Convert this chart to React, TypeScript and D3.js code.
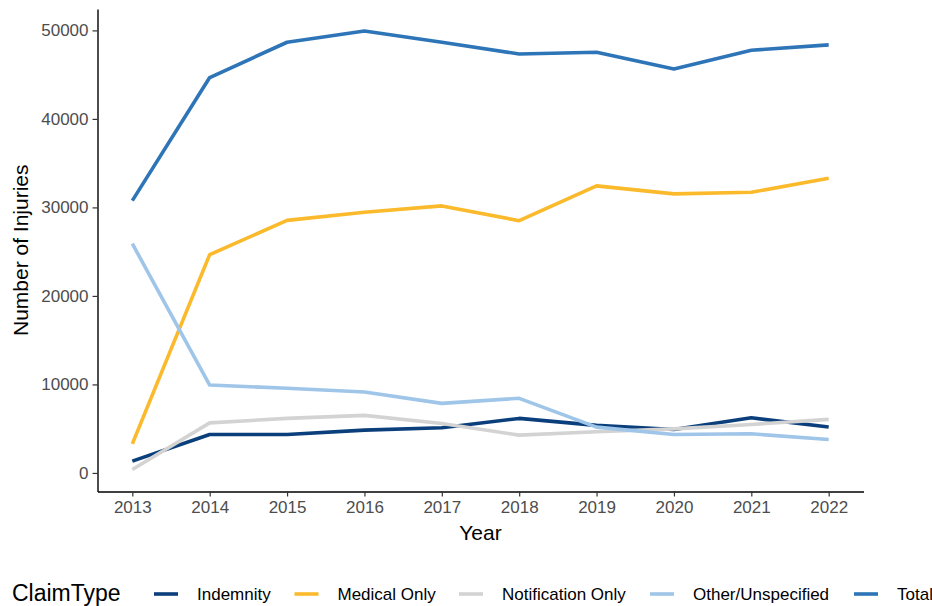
import React, { useRef, useEffect } from 'react';
import * as d3 from 'd3';

const years = [2013, 2014, 2015, 2016, 2017, 2018, 2019, 2020, 2021, 2022];
const claimTypes = ['Indemnity', 'Medical Only', 'Notification Only', 'Other/Unspecified', 'Total'];
const indemnity = [1330, 4350, 4350, 4840, 5100, 6160, 5370, 4910, 6230, 5180];
const medicalOnly = [3290, 24660, 28540, 29450, 30170, 28500, 32430, 31530, 31710, 33300];
const notificationOnly = [380, 5660, 6160, 6500, 5590, 4270, 4650, 4980, 5480, 6050];
const otherUnspecified = [25900, 9930, 9560, 9140, 7860, 8430, 5180, 4350, 4420, 3780];
const total = [30770, 44670, 48660, 49940, 48660, 47340, 47530, 45640, 47760, 48360];
const yTicks = [0, 10000, 20000, 30000, 40000, 50000];
const colors = ['#0B3F7C', '#FBBA2C', '#D3D3D3', '#9FC5E8', '#2E75B8'];

const App = () => {
  const svgRef = useRef(null);

  useEffect(() => {
    const width = 932;
    const height = 606;
    const panel = { left: 97.5, right: 863.5, top: 9, bottom: 491.5 };
    const font = 'Liberation Sans, Arial, sans-serif';

    const svg = d3.select(svgRef.current);
    svg.selectAll('*').remove();
    svg.attr('width', width).attr('height', height);

    const series = [indemnity, medicalOnly, notificationOnly, otherUnspecified, total];

    // ggplot-style 5% expansion
    const xMin = d3.min(years), xMax = d3.max(years);
    const xPad = (xMax - xMin) * 0.05;
    const x = d3.scaleLinear()
      .domain([xMin - xPad, xMax + xPad])
      .range([panel.left, panel.right]);

    const all = series.flat();
    const yMin = d3.min(all), yMax = d3.max(all);
    const yPad = (yMax - yMin) * 0.05;
    const y = d3.scaleLinear()
      .domain([yMin - yPad, yMax + yPad])
      .range([panel.bottom, panel.top]);

    // lines
    const line = d3.line().x((d, i) => x(years[i])).y(d => y(d));
    series.forEach((s, k) => {
      svg.append('path')
        .datum(s)
        .attr('d', line)
        .attr('fill', 'none')
        .attr('stroke', colors[k])
        .attr('stroke-width', 3.6)
        .attr('stroke-linejoin', 'round');
    });

    // x axis
    const xAxis = svg.append('g')
      .attr('transform', `translate(0,${panel.bottom})`)
      .call(d3.axisBottom(x).tickValues(years).tickFormat(d3.format('d')).tickSize(5).tickSizeOuter(0).tickPadding(4));
    xAxis.select('.domain').attr('stroke', '#000').attr('stroke-width', 1.4);
    xAxis.selectAll('.tick line').attr('stroke', '#333').attr('stroke-width', 1.2);
    xAxis.selectAll('.tick text').attr('fill', '#4D4D4D').attr('font-size', 17).attr('font-family', font);

    // y axis
    const yAxis = svg.append('g')
      .attr('transform', `translate(${panel.left},0)`)
      .call(d3.axisLeft(y).tickValues(yTicks).tickFormat(d3.format('d')).tickSize(5).tickSizeOuter(0).tickPadding(4));
    yAxis.select('.domain').attr('stroke', '#000').attr('stroke-width', 1.4);
    yAxis.selectAll('.tick line').attr('stroke', '#333').attr('stroke-width', 1.2);
    yAxis.selectAll('.tick text').attr('fill', '#4D4D4D').attr('font-size', 17).attr('font-family', font);

    // axis titles
    svg.append('text')
      .attr('x', (panel.left + panel.right) / 2)
      .attr('y', 540)
      .attr('text-anchor', 'middle')
      .attr('font-size', 21)
      .attr('font-family', font)
      .text('Year');

    svg.append('text')
      .attr('transform', `translate(28,${(panel.top + panel.bottom) / 2}) rotate(-90)`)
      .attr('text-anchor', 'middle')
      .attr('font-size', 21)
      .attr('font-family', font)
      .text('Number of Injuries');

    // legend
    const legendY = 594;
    svg.append('text')
      .attr('x', 12)
      .attr('y', 601)
      .attr('font-size', 23)
      .attr('font-family', font)
      .text('ClaimType');

    const keyX = [154, 294.5, 459, 650, 854];
    const legend = svg.append('g');
    legend.selectAll('line')
      .data(claimTypes)
      .enter().append('line')
      .attr('x1', (d, i) => keyX[i])
      .attr('x2', (d, i) => keyX[i] + 24)
      .attr('y1', legendY)
      .attr('y2', legendY)
      .attr('stroke', (d, i) => colors[i])
      .attr('stroke-width', 3.6);

    legend.selectAll('text')
      .data(claimTypes)
      .enter().append('text')
      .attr('x', (d, i) => keyX[i] + 43)
      .attr('y', legendY)
      .attr('dy', '0.35em')
      .attr('font-size', 17)
      .attr('font-family', font)
      .text(d => d);
  }, []);

  return (
    <svg ref={svgRef} style={{ position: 'absolute', left: 0, top: 0 }}></svg>
  );
};

export default App;
